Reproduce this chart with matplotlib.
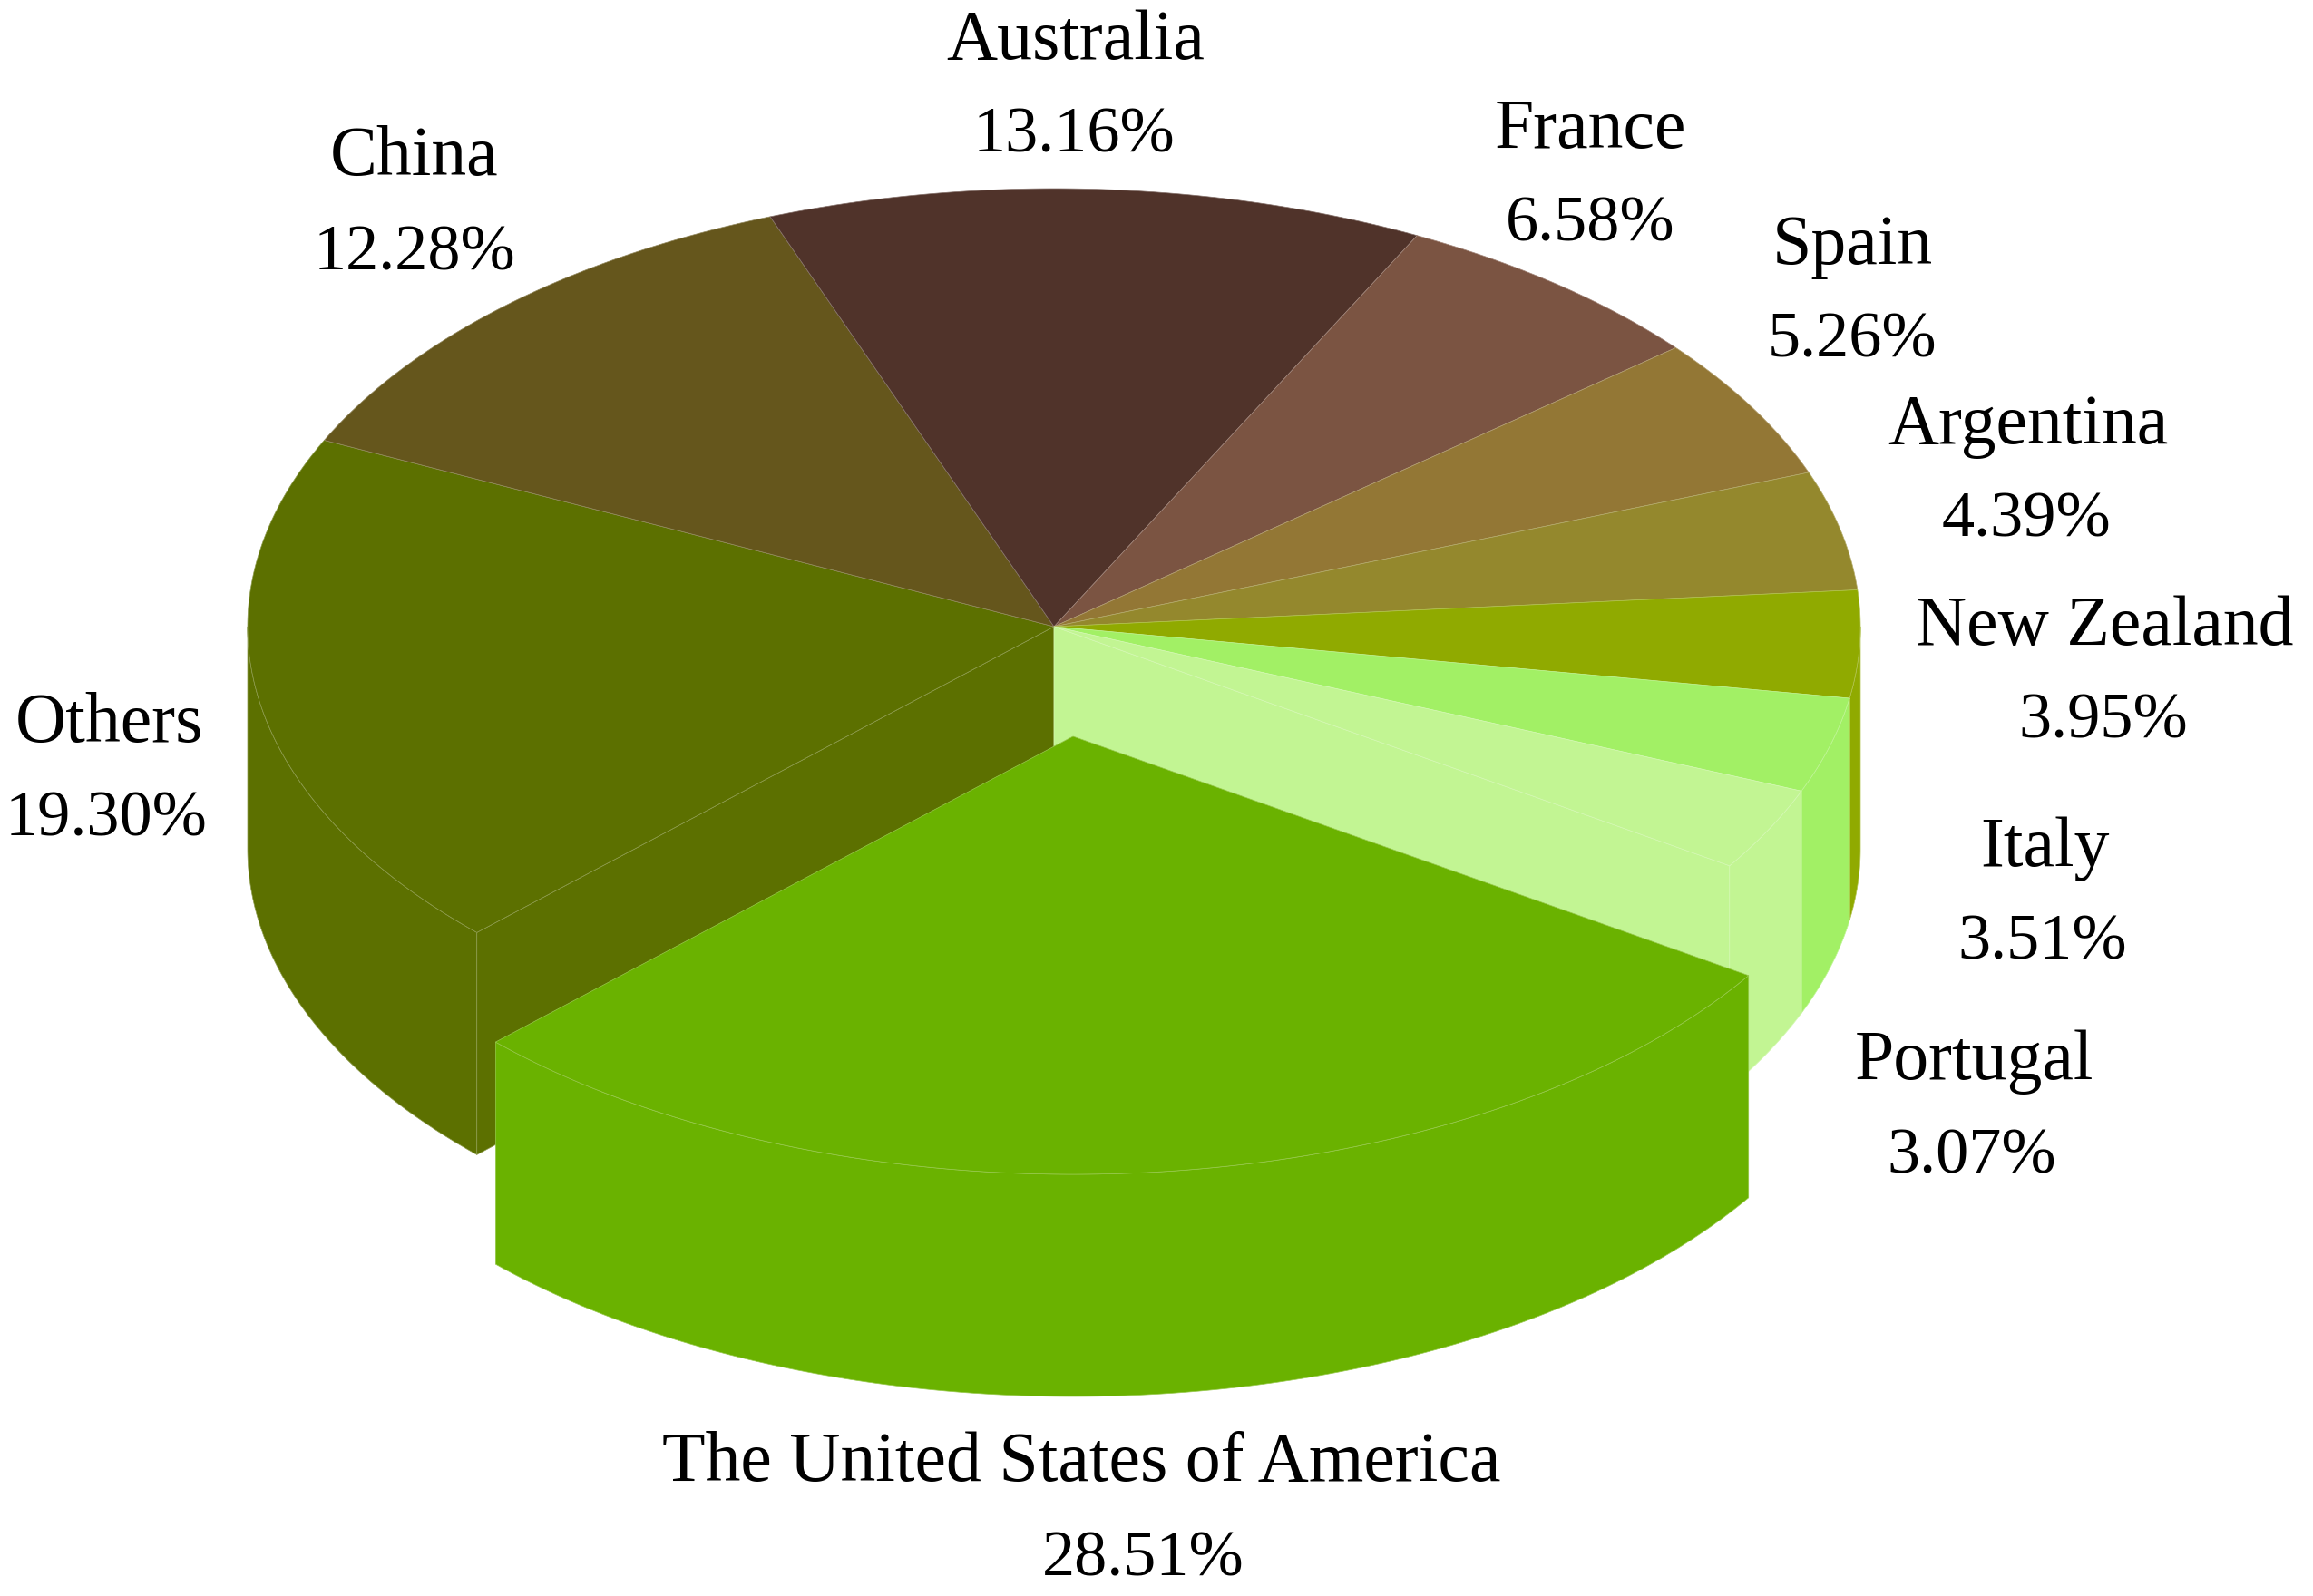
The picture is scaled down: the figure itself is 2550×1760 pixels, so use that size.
import numpy as np
import matplotlib
matplotlib.use("Agg")
import matplotlib.pyplot as plt
from matplotlib.colors import to_rgb

countries = ["Others", "China", "Australia", "France", "Spain", "Argentina",
             "New Zealand", "Italy", "Portugal", "The United States of America"]
shares = [19.30, 12.28, 13.16, 6.58, 5.26, 4.39, 3.95, 3.51, 3.07, 28.51]
share_labels = ["19.30%", "12.28%", "13.16%", "6.58%", "5.26%", "4.39%",
                "3.95%", "3.51%", "3.07%", "28.51%"]
colors = ["#5C7000", "#65561C", "#50332A", "#7B5442", "#937735", "#94882D",
          "#90AA00", "#A2F065", "#C2F593", "#6AB200"]

# label placement in picture pixels: x of each line, baselines of the two lines
name_pos = [(120, 818), (457, 193), (1186, 65), (1753, 163), (2042, 291), (2236, 489),
            (2320, 711), (2254, 955), (2176, 1190), (1192, 1633)]
share_pos = [(117, 922), (457, 298), (1184, 168), (1753, 265), (2042, 394), (2234, 592),
             (2319, 813), (2252, 1057), (2174, 1293), (1260, 1737)]

CX, CY = 1162, 691
RX, RY = 889, 483
DEPTH = 245
START = 224.3
EXPLODE = (21, 121)


def arc(a1, a2, dx=0, dy=0, n=200):
    t = np.radians(np.linspace(a1, a2, n))
    return CX + dx + RX * np.cos(t), CY + dy - RY * np.sin(t)


def lighter(color, f=0.3):
    return tuple(c + (1 - c) * f for c in to_rgb(color))


def face(ax, xs, ys, color):
    ax.fill(xs, ys, facecolor=color, edgecolor=lighter(color), linewidth=0.5, joinstyle="round")


def wall(ax, a1, a2, color, dx=0, dy=0):
    # outer rim, only the part of the slice on the front half
    for lo, hi in ((-180, 0), (180, 360)):
        top = min(a1, hi)
        bot = max(a2, lo)
        if top > bot:
            x, y = arc(top, bot, dx, dy)
            face(ax, np.r_[x, x[::-1]], np.r_[y, y[::-1] + DEPTH], color)


def top(ax, a1, a2, color, dx=0, dy=0):
    x, y = arc(a1, a2, dx, dy)
    face(ax, np.r_[CX + dx, x], np.r_[CY + dy, y], color)


def cut(ax, a, color):
    x, y = arc(a, a, n=1)
    face(ax, [CX, x[0], x[0], CX], [CY, y[0], y[0] + DEPTH, CY + DEPTH], color)


fig = plt.figure(figsize=(25.5, 17.6), dpi=100)
ax = fig.add_axes([0, 0, 1, 1])
ax.set_xlim(0, 2550)
ax.set_ylim(1760, 0)
ax.axis("off")

edges = START - 3.6 * np.r_[0, np.cumsum(shares)]

# back to front: rims, then the faces left open by the pulled out slice, then tops
for i in range(len(shares) - 1):
    wall(ax, edges[i], edges[i + 1], colors[i])
cut(ax, edges[0], colors[0])
cut(ax, edges[-2], colors[-2])
for i in range(len(shares) - 1):
    top(ax, edges[i], edges[i + 1], colors[i])

wall(ax, edges[-2] + 360, edges[-1] + 360, colors[-1], *EXPLODE)
top(ax, edges[-2], edges[-1], colors[-1], *EXPLODE)

for i in range(len(countries)):
    ax.text(name_pos[i][0], name_pos[i][1], countries[i], ha="center", va="baseline",
            fontsize=56, family="Liberation Serif", color="black")
    ax.text(share_pos[i][0], share_pos[i][1], share_labels[i], ha="center", va="baseline",
            fontsize=52, family="Liberation Serif", color="black")

fig.savefig("out.png", dpi=100, facecolor="white")
